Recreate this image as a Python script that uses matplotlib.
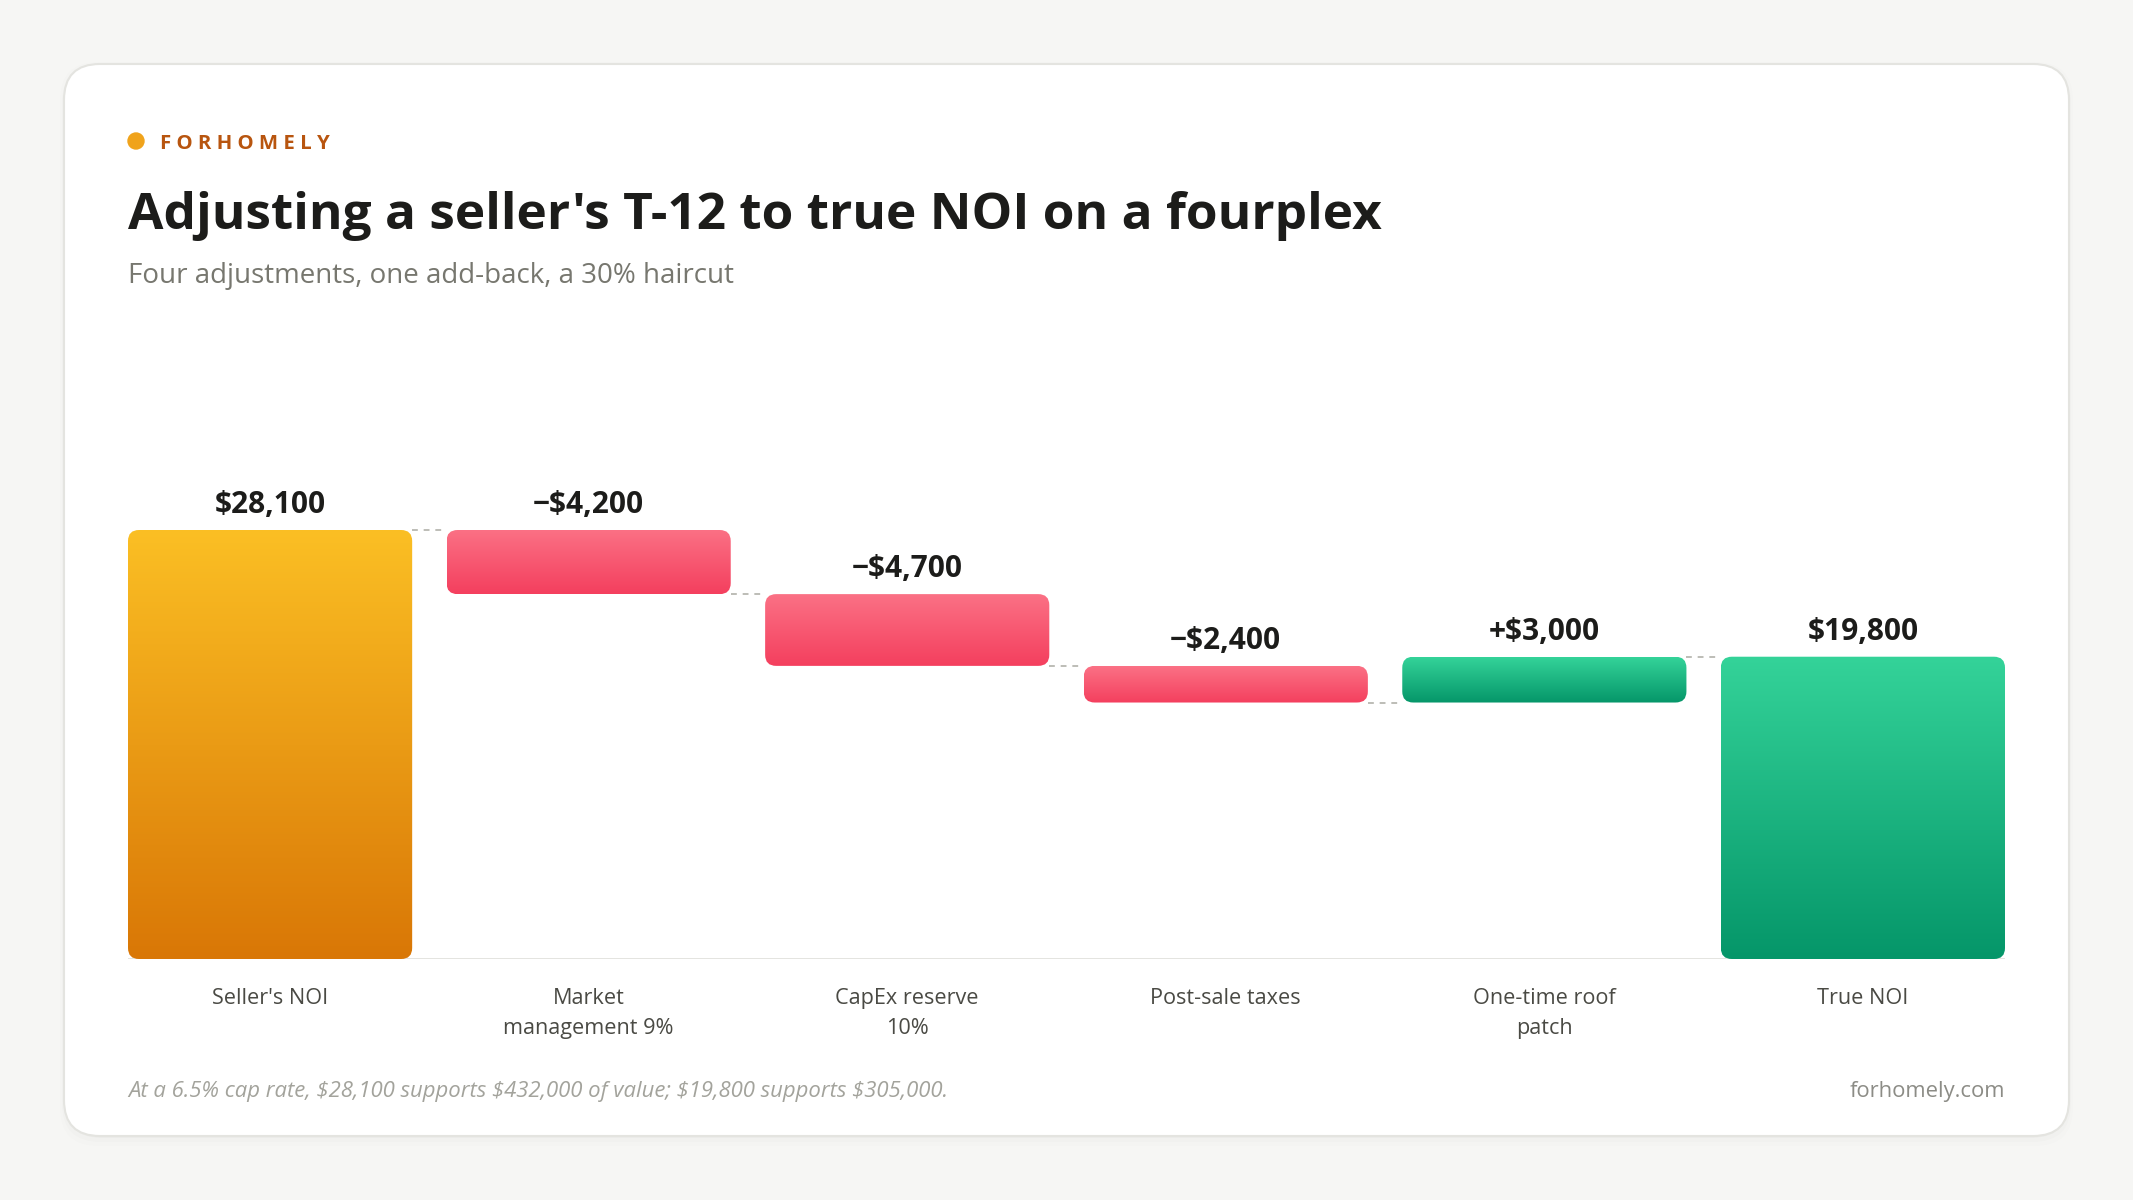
import matplotlib.pyplot as plt
import numpy as np
from matplotlib.patches import FancyBboxPatch
from matplotlib.colors import LinearSegmentedColormap

# ---------------------------------------------------------
# data
# ---------------------------------------------------------
categories = ["Seller's NOI", "Market\nmanagement 9%", "CapEx reserve\n10%",
              "Post-sale taxes", "One-time roof\npatch", "True NOI"]
amounts = [28100, -4200, -4700, -2400, 3000, 19800]
kinds = ["total", "neg", "neg", "neg", "pos", "total"]
value_labels = ["$28,100", "\u2212$4,200", "\u2212$4,700", "\u2212$2,400", "+$3,000", "$19,800"]

gradients = {
    "total0": ("#d97706", "#fbbf24"),
    "neg": ("#f43f5e", "#fb7185"),
    "pos": ("#059669", "#34d399"),
    "total1": ("#059669", "#34d399"),
}

plt.rcParams["font.family"] = ["Open Sans", "DejaVu Sans"]
plt.rcParams["text.parse_math"] = False

W, H = 2133, 1200
fig = plt.figure(figsize=(W / 100, H / 100), dpi=100)
fig.patch.set_facecolor("#f6f6f4")

# background / card layer in pixel units
bg = fig.add_axes([0, 0, 1, 1])
bg.set_xlim(0, W)
bg.set_ylim(H, 0)
bg.axis("off")

for k, a in enumerate([0.018, 0.012, 0.008]):
    sh = FancyBboxPatch((64 - 2 * k, 66 - 2 * k), 2005 + 4 * k, 1072 + 6 * k,
                        boxstyle="round,pad=0,rounding_size=38",
                        fc="black", ec="none", alpha=a)
    bg.add_patch(sh)
card = FancyBboxPatch((64, 64), 2005, 1072, boxstyle="round,pad=0,rounding_size=36",
                      fc="white", ec="#e4e4e0", lw=1.5)
bg.add_patch(card)

# header
bg.add_patch(plt.Circle((136, 141), 8, color="#f0a31b"))
bg.text(160, 144, " ".join("FORHOMELY"), fontsize=14.7, fontweight="bold",
        color="#b8550f", va="center", ha="left")
bg.text(128, 216, "Adjusting a seller's T-12 to true NOI on a fourplex",
        fontsize=37, fontweight="bold", color="#1c1c1a", va="center", ha="left")
bg.text(128, 276, "Four adjustments, one add-back, a 30% haircut",
        fontsize=20, color="#77776f", va="center", ha="left")

# footer
bg.text(128, 1091, "At a 6.5% cap rate, $28,100 supports $432,000 of value; "
        "$19,800 supports $305,000.", fontsize=15.9, style="italic",
        color="#a3a39c", va="center", ha="left")
bg.text(2005, 1091, "forhomely.com", fontsize=15.8, color="#8c8c86",
        va="center", ha="right")

# ---------------------------------------------------------
# waterfall axes
# ---------------------------------------------------------
x_left, x_right, base_y = 128, 2005, 959
ymax = 32000
px_per_val = 429 / 28100
ax_h = ymax * px_per_val
ax = fig.add_axes([x_left / W, (H - base_y) / H, (x_right - x_left) / W, ax_h / H])
ax.set_facecolor("none")

width = 0.892
ax.set_xlim(-width / 2, len(amounts) - 1 + width / 2)
ax.set_ylim(0, ymax)

px_per_x = (x_right - x_left) / (len(amounts) - 1 + width)
r_px = 11
rsize = r_px / px_per_x
m_aspect = px_per_x / px_per_val

running = 0
levels = []
total_seen = 0
for i, (amt, kind) in enumerate(zip(amounts, kinds)):
    if kind == "total":
        lo, hi = 0, amt
        running = amt
        key = "total%d" % total_seen
        total_seen += 1
    elif kind == "neg":
        lo, hi = running + amt, running
        running += amt
        key = "neg"
    else:
        lo, hi = running, running + amt
        running += amt
        key = "pos"
    levels.append(running)

    x0 = i - width / 2
    patch = FancyBboxPatch((x0, lo), width, hi - lo,
                           boxstyle="round,pad=0,rounding_size=%f" % rsize,
                           mutation_aspect=m_aspect, fc="none", ec="none")
    ax.add_patch(patch)
    cmap = LinearSegmentedColormap.from_list("g", gradients[key])
    grad = np.linspace(0, 1, 256).reshape(-1, 1)
    im = ax.imshow(grad, cmap=cmap, origin="lower", aspect="auto",
                   extent=(x0, x0 + width, lo, hi), interpolation="bicubic", zorder=2)
    im.set_clip_path(patch)

    ax.annotate(value_labels[i], (i, hi), xytext=(0, 12), textcoords="offset points",
                ha="center", va="baseline", fontsize=21.5, fontweight="bold",
                color="#1c1c1a")

# dashed connectors
for i in range(len(amounts) - 1):
    ax.plot([i + width / 2, i + 1 - width / 2], [levels[i], levels[i]],
            color="#bdbdb7", lw=1.4, ls=(0, (3, 3)), zorder=1)

ax.set_xlim(-width / 2, len(amounts) - 1 + width / 2)
ax.set_ylim(0, ymax)
ax.axhline(0, color="#dcdcd7", lw=1.8, zorder=1)

ax.set_xticks(range(len(categories)))
ax.set_xticklabels(categories, fontsize=15.6, color="#4a4a44", linespacing=1.55)
ax.tick_params(axis="x", length=0, pad=21)
ax.set_yticks([])
for s in ax.spines.values():
    s.set_visible(False)

fig.savefig("out.png", dpi=100, facecolor=fig.get_facecolor())
plt.close(fig)
